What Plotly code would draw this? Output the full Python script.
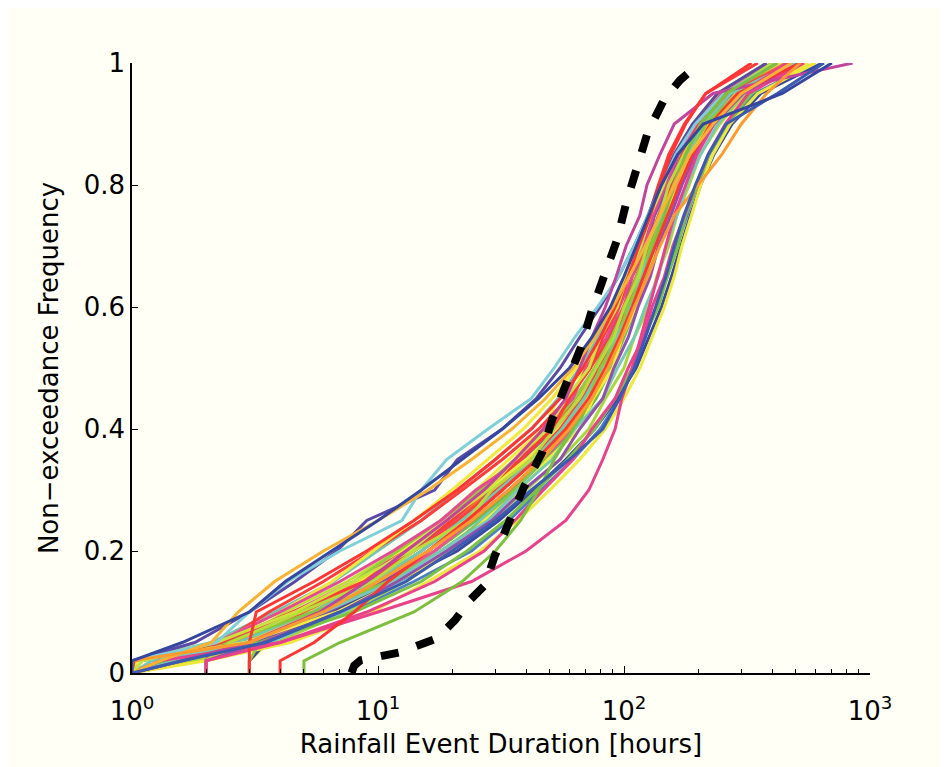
import plotly.graph_objects as go

# Non-exceedance frequency levels shared by all simulated series
LEVELS = [0.0, 0.02, 0.05, 0.10, 0.15, 0.20, 0.25, 0.30, 0.35, 0.40, 0.45,
          0.50, 0.55, 0.60, 0.65, 0.70, 0.75, 0.80, 0.85, 0.90, 0.95, 1.0]

# Event durations [hours] of each simulated series at those levels
s_indigo   = [1, 1.0, 1.8, 3.0, 4.6, 6.8, 9.0, 17, 21, 32, 44, 55, 66, 80, 95, 110, 125, 140, 160, 190, 240, 380]
s_cyan_out = [1, 1.0, 2.2, 3.0, 4.3, 7.0, 12.5, 15, 19, 28, 42, 52, 63, 78, 95, 110, 125, 142, 162, 195, 255, 420]
s_magenta  = [1, 1.6, 3.0, 5.8, 9.0, 13, 19, 27, 36, 47, 58, 66, 74, 84, 93, 102, 116, 124, 140, 160, 230, 850]
s_pink_out = [2, 2, 4, 10, 24, 40, 58, 72, 82, 92, 98, 108, 117, 127, 137, 148, 160, 178, 198, 232, 300, 460]
s_green5   = [5, 5, 7, 14, 22, 30, 38, 45, 52, 62, 74, 86, 97, 108, 120, 132, 146, 160, 178, 205, 260, 420]
s_red3     = [3, 3, 3, 3.2, 5.5, 9, 14, 21, 30, 42, 55, 68, 80, 92, 104, 115, 128, 140, 155, 178, 215, 330]
s_red4     = [4, 4, 5.5, 8, 11, 16, 23, 32, 44, 58, 72, 84, 96, 108, 120, 134, 150, 168, 190, 225, 290, 520]
s_orange   = [1, 1.3, 2.1, 2.7, 3.8, 6, 10, 16, 24, 35, 48, 62, 76, 90, 105, 122, 140, 160, 185, 230, 300, 480]
s_orange2  = [1, 1.0, 3, 6, 10, 16, 24, 34, 46, 60, 74, 86, 98, 110, 125, 140, 160, 200, 250, 300, 380, 520]
s_blue_out = [1, 1.6, 3.5, 7, 13, 20, 30, 42, 60, 82, 96, 110, 122, 134, 148, 160, 175, 195, 220, 260, 420, 650]
s_dkblue   = [1, 1.0, 1.6, 3.0, 4.2, 6.5, 10, 15, 22, 32, 45, 60, 74, 88, 100, 112, 126, 142, 165, 210, 440, 700]
s_m01 = [1, 1.0, 2.5, 4.8, 8.2, 12.5, 18, 25, 34, 47, 54, 70, 77, 95, 104, 120, 130, 150, 166, 202, 255, 410]
s_m02 = [2, 2, 2.6, 4.2, 7.5, 12, 18, 27, 37, 51, 64, 78, 90, 104, 115, 128, 143, 158, 178, 212, 265, 450]
s_m03 = [1, 1.6, 3.2, 6.5, 11, 17, 25, 34, 46, 61, 68, 84, 92, 108, 116, 133, 143, 166, 184, 224, 285, 520]
s_m04 = [2, 2, 2.4, 4.5, 8.0, 13, 20, 28, 40, 54, 67, 78, 89, 101, 114, 125, 138, 153, 172, 200, 250, 400]
s_m05 = [1, 1.0, 2.1, 3.8, 6.6, 10, 15, 21, 30, 42, 54, 66, 78, 91, 104, 118, 133, 150, 172, 208, 270, 480]
s_m06 = [1, 1.8, 3.6, 7.6, 14, 24, 34, 46, 62, 80, 96, 110, 122, 136, 150, 164, 180, 198, 222, 262, 340, 600]
s_m07 = [2, 2, 2.8, 5.0, 8.8, 14, 20, 29, 39, 52, 63, 77, 85, 100, 108, 124, 133, 152, 166, 198, 245, 380]
s_m08 = [1, 1.0, 2.6, 5.2, 9.2, 14, 21, 28, 38, 51, 63, 76, 88, 99, 112, 124, 138, 155, 176, 210, 268, 460]
s_m09 = [3, 3, 3.6, 5.2, 8.5, 13, 19, 28, 40, 54, 69, 82, 95, 108, 121, 134, 150, 168, 192, 230, 300, 600]
s_m10 = [1, 1.8, 3.8, 7.5, 13, 20, 29, 40, 55, 72, 84, 100, 110, 126, 136, 152, 164, 184, 204, 245, 310, 510]
s_m11 = [2, 2, 2.3, 3.6, 6.0, 9.5, 15, 22, 32, 45, 59, 73, 87, 100, 113, 126, 140, 155, 172, 200, 250, 430]
s_m12 = [1, 1.0, 3.6, 7.2, 12.5, 19, 26, 36, 48, 61, 74, 86, 97, 109, 121, 134, 148, 165, 186, 220, 280, 470]
s_m13 = [2, 2, 3.0, 5.6, 9.8, 15, 22, 31, 43, 57, 70, 83, 95, 107, 119, 132, 147, 164, 185, 218, 280, 500]
s_m14 = [1, 1.4, 2.7, 5.8, 10.5, 17, 25, 35, 48, 63, 77, 89, 100, 112, 124, 137, 152, 170, 192, 228, 295, 540]
s_m15 = [3, 3, 3.5, 6.5, 12, 21, 31, 43, 58, 76, 94, 112, 126, 142, 156, 170, 186, 205, 232, 275, 360, 640]
s_m16 = [1, 1.0, 2.9, 6.0, 10, 16, 22, 31, 43, 58, 67, 83, 90, 106, 114, 130, 140, 160, 176, 212, 270, 480]
s_m17 = [2, 2, 3.2, 6.2, 11, 17, 24, 34, 47, 61, 74, 86, 97, 109, 121, 133, 147, 163, 183, 215, 275, 460]
s_m18 = [1, 2.0, 4.4, 9.5, 16, 26, 37, 50, 66, 84, 100, 116, 130, 146, 160, 172, 188, 205, 230, 270, 350, 600]
s_m19 = [1, 1.0, 2.2, 4.0, 6.5, 9.5, 14, 20, 28, 39, 51, 64, 76, 89, 102, 114, 127, 143, 162, 192, 245, 430]
s_m20 = [3, 3, 3.3, 4.8, 8, 12, 18, 26, 36, 49, 63, 76, 89, 101, 113, 126, 140, 156, 176, 208, 265, 470]
s_m21 = [1, 1.6, 3.1, 6.3, 10.5, 16, 23, 32, 44, 57, 70, 82, 94, 106, 118, 130, 144, 160, 180, 213, 275, 490]
s_m22 = [1, 1.0, 2.6, 5.0, 9.0, 14, 21, 30, 42, 55, 68, 80, 92, 104, 116, 128, 141, 156, 176, 208, 265, 470]
s_m23 = [2, 2, 2.9, 5.6, 10, 16, 23, 32, 44, 57, 70, 83, 95, 107, 119, 131, 145, 162, 183, 218, 285, 520]
s_m24 = [1, 1.5, 2.7, 5.4, 9.5, 15, 22, 31, 43, 56, 69, 81, 93, 105, 117, 129, 143, 159, 179, 212, 272, 490]
s_m25 = [1, 1.0, 2.4, 5.5, 11, 18, 27, 36, 47, 58, 72, 80, 96, 103, 121, 128, 146, 160, 188, 215, 290, 560]
s_m26 = [2, 2, 2.2, 4.0, 7.0, 11.5, 18, 25, 38, 47, 62, 70, 85, 96, 108, 121, 131, 148, 166, 196, 250, 420]
s_m27 = [1, 1.05, 2.9, 6.8, 12, 20, 27, 38, 49, 66, 75, 90, 98, 112, 120, 136, 147, 168, 186, 225, 300, 560]
s_m28 = [1, 1.1, 3.3, 8.0, 15, 23, 33, 44, 59, 76, 92, 108, 120, 138, 150, 166, 178, 200, 222, 262, 330, 480]
s_m29 = [2, 2, 2.5, 4.9, 9.5, 14, 23, 29, 42, 52, 66, 77, 91, 100, 115, 124, 140, 152, 175, 205, 260, 400]
s_m30 = [1, 1.02, 2.3, 4.5, 8.8, 13, 20, 27, 38, 51, 60, 73, 82, 95, 104, 116, 126, 138, 152, 176, 215, 350]
s_m31 = [1, 1.2, 3.0, 6.0, 11.5, 18, 28, 37, 51, 63, 82, 94, 110, 122, 138, 148, 164, 180, 205, 240, 300, 500]
s_m32 = [2, 2, 3.4, 7.0, 12, 19, 29, 39, 55, 66, 82, 91, 104, 114, 128, 138, 155, 172, 195, 232, 305, 520]
s_m33 = [1, 1.3, 4.0, 9.0, 17, 27, 36, 47, 62, 74, 92, 104, 120, 130, 146, 158, 176, 196, 220, 258, 320, 540]
s_m34 = [1, 1.1, 2.2, 4.6, 8.0, 13.5, 19, 28, 36, 49, 58, 72, 80, 94, 103, 117, 128, 145, 160, 190, 240, 380]

# Observed distribution (thick dashed black curve)
obs_duration = [7.8, 8.0, 8.5, 12.3, 17.4, 20.6, 23.7, 27.2, 29.9, 34.4, 39.2, 46.4,
                51.0, 58.6, 66.8, 74.1, 83.7, 93.7, 102, 113, 125, 146, 169, 204]
obs_freq = [0.0, 0.012, 0.021, 0.034, 0.057, 0.087, 0.12, 0.144, 0.193, 0.248, 0.305, 0.361,
            0.415, 0.477, 0.534, 0.595, 0.654, 0.71, 0.77, 0.83, 0.887, 0.941, 0.972, 1.0]

series = [
    (s_m01, "#F1EE3B"), (s_m02, "#BFE03A"), (s_m03, "#86C540"), (s_m04, "#EC4690"),
    (s_m05, "#6FC6B5"), (s_m06, "#4E7FC6"), (s_m07, "#8A4FB0"), (s_m08, "#FF6A2A"),
    (s_m09, "#EDEB3E"), (s_m10, "#A9D63C"), (s_m11, "#FF3B3B"), (s_m12, "#70C7DE"),
    (s_m13, "#C94AA0"), (s_m14, "#72BD45"), (s_m15, "#3848A2"), (s_m16, "#C4E23A"),
    (s_m17, "#F0509A"), (s_m18, "#EEE83A"), (s_m19, "#F3E93C"), (s_m20, "#93CC3E"),
    (s_m21, "#7D50AE"), (s_m22, "#FF4040"), (s_m23, "#F7BB33"), (s_m24, "#6ECBB0"),
    (s_m25, "#8BC63F"), (s_m26, "#E64A95"), (s_m27, "#F4EC3A"), (s_m28, "#7CC242"),
    (s_m29, "#B7DC3B"), (s_m30, "#FF3A3A"), (s_m31, "#74C9B9"), (s_m32, "#9150B0"),
    (s_m33, "#E8428C"), (s_m34, "#C9E43C"),
    (s_indigo, "#5A4AA6"), (s_cyan_out, "#7ECFD9"), (s_magenta, "#C2449C"),
    (s_pink_out, "#E8428C"), (s_green5, "#7DBE3F"), (s_red3, "#FF3535"),
    (s_red4, "#FF3535"), (s_orange, "#F9B233"), (s_orange2, "#FF9A2E"),
    (s_blue_out, "#3A5BB0"), (s_dkblue, "#34469E"),
]

fig = go.Figure()
for vals, col in series:
    fig.add_trace(go.Scatter(x=vals, y=LEVELS, mode="lines",
                             line=dict(color=col, width=3), hoverinfo="skip"))

fig.add_trace(go.Scatter(x=obs_duration, y=obs_freq, mode="lines",
                         line=dict(color="black", width=8, dash="18px,19px"),
                         hoverinfo="skip"))

font_family = "DejaVu Sans, Liberation Sans, Arial, sans-serif"
fig.update_layout(
    width=949, height=767,
    margin=dict(l=124, r=87, t=55, b=102),
    paper_bgcolor="#FFFFF5", plot_bgcolor="#FFFFF5",
    showlegend=False,
    font=dict(family=font_family, size=26, color="black"),
    xaxis=dict(
        type="log", range=[0, 3],
        tickvals=[1, 10, 100, 1000],
        ticktext=["10<sup>0</sup>", "10<sup>1</sup>", "10<sup>2</sup>", "10<sup>3</sup>"],
        ticks="inside", ticklen=7, tickwidth=1.3, tickcolor="black",
        minor=dict(ticks="inside", ticklen=4, tickwidth=1.3, tickcolor="black",
                   tickvals=[2, 3, 4, 5, 6, 7, 8, 9, 20, 30, 40, 50, 60, 70, 80, 90,
                             200, 300, 400, 500, 600, 700, 800, 900], showgrid=False),
        showline=True, linecolor="black", linewidth=1.5, showgrid=False, zeroline=False,
        ticklabelstandoff=14,
        title=dict(text="Rainfall Event Duration [hours]", standoff=10,
                   font=dict(size=26)),
        automargin=False,
        tickfont=dict(size=26),
    ),
    yaxis=dict(
        range=[0, 1],
        tickvals=[0, 0.2, 0.4, 0.6, 0.8, 1.0],
        ticktext=["0", "0.2", "0.4", "0.6", "0.8", "1"],
        ticks="inside", ticklen=6, tickwidth=1.3, tickcolor="black",
        showline=True, linecolor="black", linewidth=1.5, showgrid=False, zeroline=False,
        title=dict(text="Non\u2212exceedance Frequency", standoff=18, font=dict(size=26)),
        automargin=False,
        tickfont=dict(size=26),
    ),
)

fig.write_html("out.html")
